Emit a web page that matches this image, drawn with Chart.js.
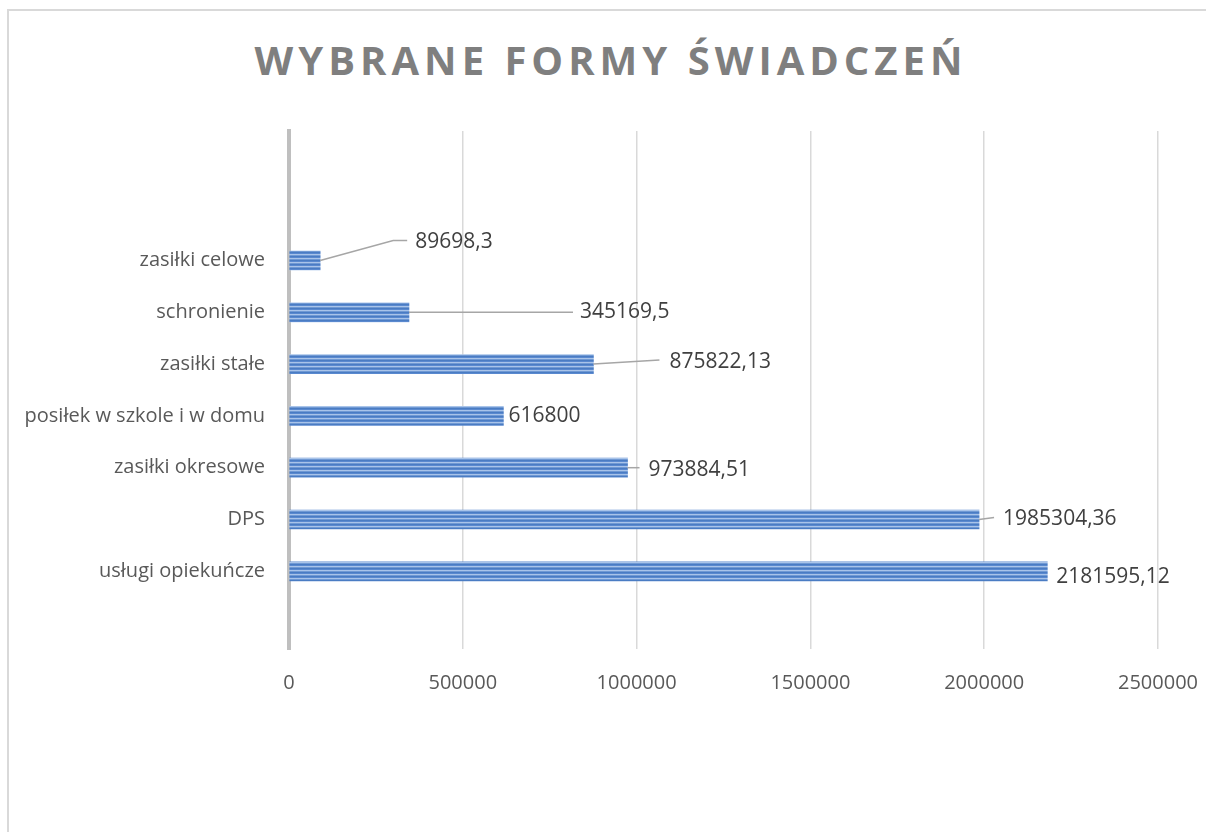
<!DOCTYPE html>
<html><head><meta charset="utf-8">
<script src="https://cdn.jsdelivr.net/npm/chart.js@4/dist/chart.umd.min.js"></script>
<style>
html,body{margin:0;padding:0;background:#fff;overflow:hidden;width:1206px;height:832px}
#frame{position:absolute;left:7px;top:9px;width:1300px;height:1000px;border:2px solid #d9d9d9;box-sizing:border-box}
#title{position:absolute;left:0;top:32px;width:1222px;text-align:center;font-family:'Open Sans';font-weight:bold;font-size:40px;line-height:normal;letter-spacing:5px;color:#7f7f7f;white-space:nowrap}
canvas{position:absolute;left:0;top:0}
</style></head>
<body>
<div id="frame"></div>
<div id="title">WYBRANE FORMY ŚWIADCZEŃ</div>
<canvas id="c" width="1206" height="832"></canvas>
<script>
// ---- data ----
const categories = ['', '', 'zasiłki celowe', 'schronienie', 'zasiłki stałe', 'posiłek w szkole i w domu', 'zasiłki okresowe', 'DPS', 'usługi opiekuńcze', ''];
const values = [null, null, 89698.3, 345169.5, 875822.13, 616800, 973884.51, 1985304.36, 2181595.12, null];
const xTicks = [0, 500000, 1000000, 1500000, 2000000, 2500000];

// ---- label placement (relative to bar end / bar centre), styling only ----
const labelLayout = [null, null,
  {line: [[0,0],[73,-20],[87,-20]], dx: 95, dy: -18},
  {line: [[0,0],[164,0]], dx: 171, dy: 0},
  {line: [[0,0],[66,-4]], dx: 76, dy: -2},
  {line: null, dx: 5, dy: 0},
  {line: [[0,0],[12,0]], dx: 21, dy: 2},
  {line: [[0,0],[15,-2]], dx: 24, dy: 0},
  {line: null, dx: 9, dy: 6},
  null];

function makePattern() {
  const pc = document.createElement('canvas');
  pc.width = 8; pc.height = 4;
  const g = pc.getContext('2d');
  const rows = ['#4a7cc3', '#5a89cf', '#a9c4e9', '#7099d4'];
  rows.forEach((col, i) => { g.fillStyle = col; g.fillRect(0, i, 8, 1); });
  return document.getElementById('c').getContext('2d').createPattern(pc, 'repeat');
}

const dataLabels = {
  id: 'dataLabels',
  afterDatasetsDraw(chart) {
    const ctx = chart.ctx;
    const meta = chart.getDatasetMeta(0);
    ctx.save();
    ctx.font = '21px "Open Sans"';
    ctx.fillStyle = '#404040';
    ctx.textBaseline = 'middle';
    ctx.textAlign = 'left';
    ctx.strokeStyle = '#a6a6a6';
    ctx.lineWidth = 1.5;
    meta.data.forEach((el, i) => {
      const v = values[i];
      const L = labelLayout[i];
      if (v == null || !L) return;
      const x0 = el.x, y0 = el.y;
      if (L.line) {
        ctx.beginPath();
        L.line.forEach((p, k) => { k ? ctx.lineTo(x0 + p[0], y0 + p[1]) : ctx.moveTo(x0 + p[0], y0 + p[1]); });
        ctx.stroke();
      }
      ctx.fillText(String(v).replace('.', ','), x0 + L.dx, y0 + L.dy);
    });
    ctx.restore();
  }
};

new Chart(document.getElementById('c'), {
  type: 'bar',
  data: {
    labels: categories,
    datasets: [{
      data: values,
      backgroundColor: makePattern(),
      borderWidth: 0,
      barThickness: 19
    }]
  },
  options: {
    indexAxis: 'y',
    responsive: false,
    animation: false,
    devicePixelRatio: 1,
    layout: {padding: {top: 131, right: 48, left: 0, bottom: 0}},
    plugins: {legend: {display: false}, title: {display: false}, tooltip: {enabled: false}},
    scales: {
      x: {
        min: xTicks[0], max: xTicks[xTicks.length - 1],
        afterBuildTicks: s => { s.ticks = xTicks.map(v => ({value: v})); },
        ticks: {callback: v => String(v), color: '#595959', font: {family: 'Open Sans', size: 20}, padding: 22, maxRotation: 0},
        grid: {color: '#d9d9d9', lineWidth: 1.5, drawTicks: false},
        border: {display: false},
        afterFit: s => { s.height = 183; s.paddingRight = 0; s.paddingLeft = 0; }
      },
      y: {
        grid: {display: false, drawTicks: false},
        border: {display: true, color: '#bfbfbf', width: 4},
        ticks: {color: '#595959', font: {family: 'Open Sans', size: 20}, padding: 24, autoSkip: false},
        afterFit: s => { s.width = 289; s.paddingTop = 0; s.paddingBottom = 0; }
      }
    }
  },
  plugins: [dataLabels]
});
</script>
</body></html>
